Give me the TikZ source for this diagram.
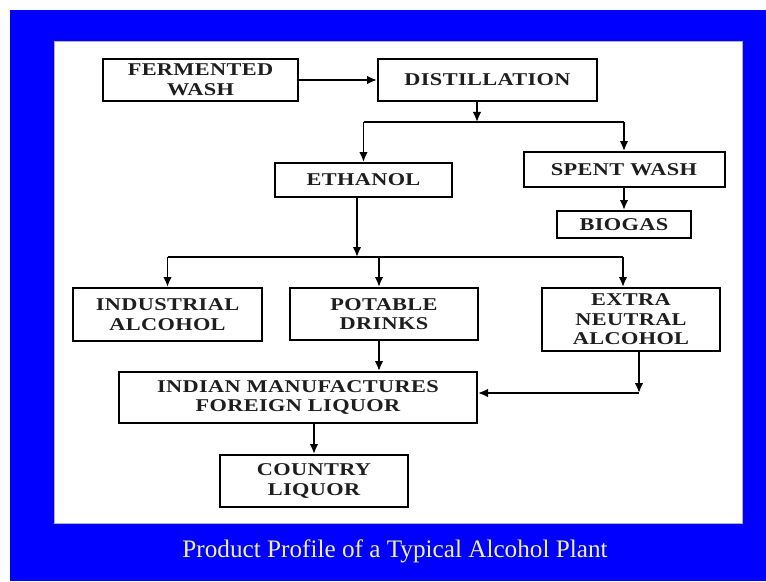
\documentclass[tikz,border=0pt]{standalone}
\usepackage{fontspec}
\setmainfont{Liberation Serif}
\newfontfamily\boxfont[FakeStretch=1.24, LetterSpace=2.0]{Liberation Serif}
\usetikzlibrary{arrows.meta}
\newlength\px
\setlength\px{0.75pt}
\definecolor{slideblue}{RGB}{0,0,255}
\definecolor{titleyellow}{RGB}{240,240,165}
\definecolor{boxtext}{RGB}{30,30,30}
\begin{document}
\begin{tikzpicture}[x=0.75pt, y=-0.75pt, >={Latex[length=7.5pt, width=6.5pt]},
  box/.style={draw, line width=1.5pt, inner sep=0pt, align=center, text=boxtext,
    font=\boxfont\bfseries\fontsize{13.5}{14.7}\selectfont},
  link/.style={draw, line width=1.4pt}]

  \useasboundingbox (0,0) rectangle (766,581);
  \fill[white] (0,0) rectangle (766,581);
  \fill[slideblue] (10,10) rectangle (766,581);
  \fill[white] (54,42) rectangle (742,523);
  \draw[gray!60, line width=0.75pt] (54,42) rectangle (742,523);

  \node[box, minimum width=195\px, minimum height=42\px] (wash) at (200.5,80) {FERMENTED\\WASH};
  \node[box, minimum width=219\px, minimum height=42\px] (distil) at (487.5,80) {DISTILLATION};
  \node[box, minimum width=177\px, minimum height=34\px] (ethanol) at (363.5,180) {ETHANOL};
  \node[box, minimum width=201\px, minimum height=35\px] (spent) at (624,169.5) {SPENT WASH};
  \node[box, minimum width=134\px, minimum height=27\px] (biogas) at (624,224.5) {BIOGAS};

  \node[box, minimum width=189\px, minimum height=53\px] (industrial) at (167.5,314.5) {INDUSTRIAL\\ALCOHOL};
  \node[box, minimum width=188\px, minimum height=52\px] (potable) at (384,314) {POTABLE\\DRINKS};
  \node[box, minimum width=178\px, minimum height=63\px] (ena) at (631,319.5) {EXTRA\\NEUTRAL\\ALCOHOL};

  \node[box, minimum width=358\px, minimum height=51\px] (imfl) at (298,397.5) {INDIAN MANUFACTURES\\FOREIGN LIQUOR};
  \node[box, minimum width=188\px, minimum height=52\px] (country) at (314,481) {COUNTRY\\LIQUOR};

  \node[anchor=base, text=titleyellow, font=\fontsize{18.9}{20}\selectfont] (title) at (395,557) {Product Profile of a Typical Alcohol Plant};

  \coordinate (split1) at (477,122);
  \coordinate (split1l) at (363.5,122);
  \coordinate (split1r) at (624,122);
  \coordinate (split2) at (357,257);
  \coordinate (split2l) at (167.5,257);
  \coordinate (split2m) at (379,257);
  \coordinate (split2r) at (623,257);
  \coordinate (corner) at (639,393);

  \path[link, ->] (wash) to (distil);
  \path[link, ->] (split1 |- distil.south) to (split1);
  \path[link, -] (split1l) to (split1r);
  \path[link, ->] (split1l) to (ethanol);
  \path[link, ->] (split1r) to (spent);
  \path[link, ->] (spent) to (biogas);

  \path[link, ->] (split2 |- ethanol.south) to (split2);
  \path[link, -] (split2l) to (split2r);
  \path[link, ->] (split2l) to (industrial);
  \path[link, ->] (split2m) to (split2m |- potable.north);
  \path[link, ->] (split2r) to (split2r |- ena.north);

  \path[link, ->] (split2m |- potable.south) to (split2m |- imfl.north);
  \path[link, ->] (corner |- ena.south) to (corner);
  \path[link, ->] (corner) to (corner -| imfl.east);
  \path[link, ->] (imfl.south -| country.north) to (country);

\end{tikzpicture}
\end{document}
